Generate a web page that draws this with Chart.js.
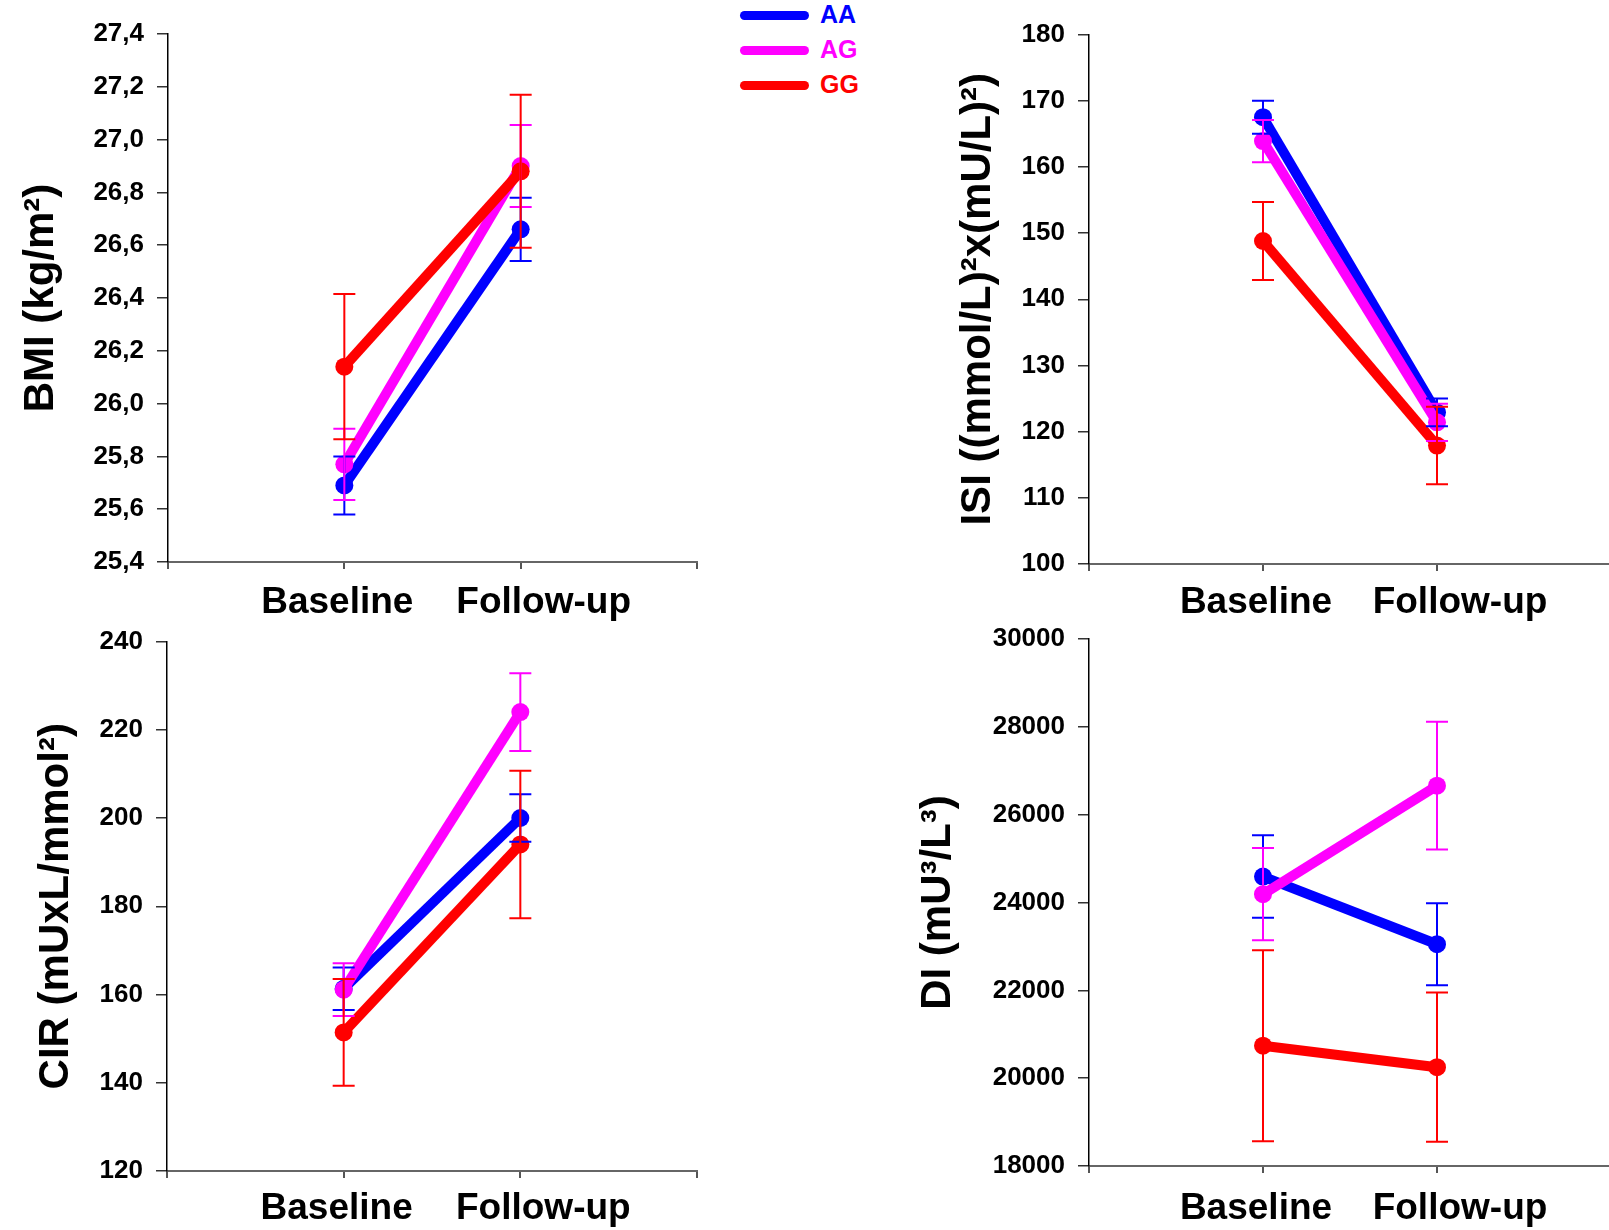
<!DOCTYPE html>
<html>
<head>
<meta charset="utf-8">
<script src="https://cdn.jsdelivr.net/npm/chart.js@4.4.1/dist/chart.umd.min.js"></script>
<style>
  html, body { margin: 0; padding: 0; background: #fff; overflow: hidden; }
  body { width: 1609px; height: 1230px; position: relative; }
  canvas { position: absolute; }
  .key { position: absolute; left: 740px; height: 30px; }
  .key .bar { position: absolute; left: 0; top: 10.5px; width: 69px; height: 9px; border-radius: 4.5px; }
  .key .txt { position: absolute; left: 80px; top: 0; line-height: 30px; font: bold 25px "Liberation Sans", Arial, sans-serif; }
</style>
</head>
<body>
<script>
const categories = ['Baseline', 'Follow-up'];
const groups = ['AA', 'AG', 'GG'];
const colors = ['#0000ff', '#ff00ff', '#ff0000'];

// BMI, mean and error bar half-length per genotype (baseline, follow-up)
const bmiAA = [25.69, 26.66];
const bmiAG = [25.77, 26.90];
const bmiGG = [26.14, 26.88];
const bmiErrAA = [0.11, 0.12];
const bmiErrAG = [0.135, 0.155];
const bmiErrGG = [0.275, 0.29];

// ISI
const isiAA = [167.5, 122.9];
const isiAG = [163.9, 121.4];
const isiGG = [148.8, 117.9];
const isiErrAA = [2.5, 2.1];
const isiErrAG = [3.2, 2.8];
const isiErrGG = [5.9, 5.85];

// CIR
const cirAA = [161.3, 200.0];
const cirAG = [161.1, 224.0];
const cirGG = [151.4, 194.0];
const cirErrAA = [4.8, 5.4];
const cirErrAG = [6.0, 8.8];
const cirErrGG = [12.1, 16.7];

// DI
const diAA = [24590, 23050];
const diAG = [24190, 26660];
const diGG = [20740, 20250];
const diErrAA = [940, 935];
const diErrAG = [1050, 1455];
const diErrGG = [2175, 1700];

Chart.defaults.font.family = '"Liberation Sans", Arial, sans-serif';

const panels = [
  { title: 'BMI (kg/m²)', means: [bmiAA, bmiAG, bmiGG], errs: [bmiErrAA, bmiErrAG, bmiErrGG],
    min: 25.4, max: 27.4, step: 0.2, fmt: v => v.toFixed(1).replace('.', ','),
    box: { left: 0, top: 0, w: 720, h: 640 }, area: [168, 34, 697, 562], titleX: 41, labelY: 603 },
  { title: 'ISI ((mmol/L)²x(mU/L)²)', means: [isiAA, isiAG, isiGG], errs: [isiErrAA, isiErrAG, isiErrGG],
    min: 100, max: 180, step: 10, fmt: v => String(v),
    box: { left: 880, top: 0, w: 740, h: 640 }, area: [1089, 34.5, 1618, 564], titleX: 978, labelY: 603 },
  { title: 'CIR (mUxL/mmol²)', means: [cirAA, cirAG, cirGG], errs: [cirErrAA, cirErrAG, cirErrGG],
    min: 120, max: 240, step: 20, fmt: v => String(v),
    box: { left: 0, top: 590, w: 720, h: 640 }, area: [167, 641.5, 697, 1171], titleX: 56, labelY: 1209 },
  { title: 'DI (mU³/L³)', means: [diAA, diAG, diGG], errs: [diErrAA, diErrAG, diErrGG],
    min: 18000, max: 30000, step: 2000, fmt: v => String(v),
    box: { left: 880, top: 590, w: 740, h: 640 }, area: [1089, 639, 1618, 1166], titleX: 938, labelY: 1209 }
];

// category labels sit a little off their ticks in the original
const labelShift = [-7, 23];

const errorBars = {
  id: 'errorBars',
  afterDatasetsDraw(chart) {
    const { ctx, scales: { x, y } } = chart;
    ctx.save();
    chart.data.datasets.forEach(ds => {
      ds.data.forEach((pt, j) => {
        const e = ds.errors[j];
        const px = x.getPixelForValue(pt.x);
        const top = y.getPixelForValue(pt.y + e);
        const bot = y.getPixelForValue(pt.y - e);
        ctx.strokeStyle = ds.borderColor;
        ctx.lineWidth = 2;
        ctx.beginPath();
        ctx.moveTo(px, top); ctx.lineTo(px, bot);
        ctx.moveTo(px - 11, top); ctx.lineTo(px + 11, top);
        ctx.moveTo(px - 11, bot); ctx.lineTo(px + 11, bot);
        ctx.stroke();
      });
    });
    ctx.restore();
  }
};

const categoryLabels = {
  id: 'categoryLabels',
  afterDraw(chart, args, opts) {
    const { ctx, scales: { x } } = chart;
    ctx.save();
    ctx.font = 'bold 37px "Liberation Sans", Arial, sans-serif';
    ctx.fillStyle = '#000';
    ctx.textAlign = 'center';
    ctx.textBaseline = 'middle';
    categories.forEach((lab, j) => {
      ctx.fillText(lab, x.getPixelForValue(j + 1) + labelShift[j], opts.y);
    });
    ctx.restore();
  }
};

panels.forEach(p => {
  const c = document.createElement('canvas');
  c.width = p.box.w;
  c.height = p.box.h;
  c.style.left = p.box.left + 'px';
  c.style.top = p.box.top + 'px';
  document.body.appendChild(c);
  const [aL, aT, aR, aB] = p.area;

  new Chart(c, {
    type: 'line',
    data: {
      datasets: groups.map((g, i) => ({
        label: g,
        data: p.means[i].map((v, j) => ({ x: j + 1, y: v })),
        errors: p.errs[i],
        borderColor: colors[i],
        backgroundColor: colors[i],
        pointBackgroundColor: colors[i],
        pointBorderWidth: 0,
        pointRadius: 9,
        borderWidth: 10,
        order: 2 - i
      }))
    },
    options: {
      responsive: false,
      animation: false,
      layout: { padding: { left: 0, bottom: 0, top: aT - p.box.top, right: p.box.left + p.box.w - aR } },
      plugins: {
        legend: { display: false },
        tooltip: { enabled: false },
        categoryLabels: { y: p.labelY - p.box.top }
      },
      scales: {
        x: {
          type: 'linear', min: 0, max: 3,
          afterFit: s => { s.height = p.box.top + p.box.h - aB; },
          border: { color: '#666', width: 2 },
          grid: { drawOnChartArea: false, tickLength: 7, color: '#555', lineWidth: 2 },
          ticks: { stepSize: 1, autoSkip: false, maxRotation: 0, callback: () => '' }
        },
        y: {
          min: p.min, max: p.max,
          afterFit: s => { s.width = aL - p.box.left; },
          border: { color: '#000', width: 1.5 },
          grid: { drawOnChartArea: false, tickLength: 11, color: '#333', lineWidth: 1.5 },
          ticks: { stepSize: p.step, padding: 13, color: '#000', font: { size: 26, weight: 'bold' }, callback: p.fmt },
          title: {
            display: true, text: p.title, color: '#000',
            font: { size: 42, weight: 'bold' },
            padding: { top: p.titleX - p.box.left - 25.2, bottom: 0 }
          }
        }
      }
    },
    plugins: [errorBars, categoryLabels]
  });
});

// legend
const keyY = [15, 50, 85];
groups.forEach((g, i) => {
  const d = document.createElement('div');
  d.className = 'key';
  d.style.top = (keyY[i] - 15) + 'px';
  d.innerHTML = '<div class="bar" style="background:' + colors[i] + '"></div><span class="txt" style="color:' + colors[i] + '">' + g + '</span>';
  document.body.appendChild(d);
});
</script>
</body>
</html>
